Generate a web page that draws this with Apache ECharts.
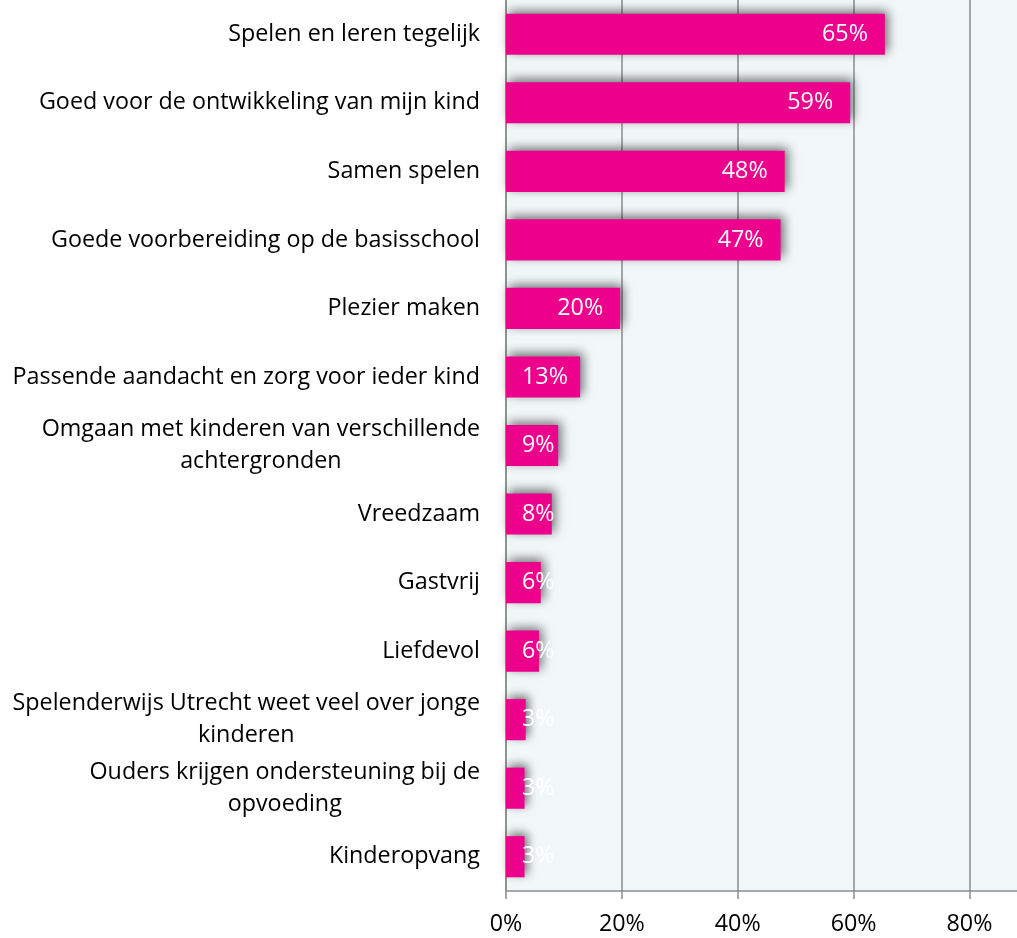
<!DOCTYPE html>
<html>
<head>
<meta charset="utf-8">
<script src="https://cdn.jsdelivr.net/npm/echarts@6/dist/echarts.min.js"></script>
<style>
  html, body { margin: 0; padding: 0; background: #fff; }
  #chart { width: 1017px; height: 938px; }
</style>
</head>
<body>
<div id="chart"></div>
<script>
// top to bottom, as in the picture
const categories = [
  'Spelen en leren tegelijk',
  'Goed voor de ontwikkeling van mijn kind',
  'Samen spelen',
  'Goede voorbereiding op de basisschool',
  'Plezier maken',
  'Passende aandacht en zorg voor ieder kind',
  'Omgaan met kinderen van verschillende\nachtergronden',
  'Vreedzaam',
  'Gastvrij',
  'Liefdevol',
  'Spelenderwijs Utrecht weet veel over jonge\nkinderen',
  'Ouders krijgen ondersteuning bij de\nopvoeding',
  'Kinderopvang'
];
const values = [65.4, 59.4, 48.1, 47.4, 19.7, 12.8, 9.0, 7.9, 6.0, 5.7, 3.4, 3.2, 3.2];
const tickValues = [0, 20, 40, 60, 80];

const FONT = 'Open Sans';
const FS = 23.3;
const GRAY = '#8c8c8c';

const chart = echarts.init(document.getElementById('chart'));

const seriesData = values.map(v => {
  // Excel keeps short-bar labels from running left past the bar start
  if (v < 15) {
    return { value: v, label: { position: 'insideLeft', distance: 16 } };
  }
  return { value: v };
});

const option = {
  backgroundColor: '#ffffff',
  animation: false,
  grid: {
    left: 506,
    right: 0,
    top: -2,
    bottom: 47,
    show: true,
    backgroundColor: '#f2f7fa',
    borderWidth: 0
  },
  xAxis: {
    type: 'value',
    min: 0,
    max: 88.2,   // the picture is cropped just past 88%
    interval: 20,
    axisLine: { show: true, lineStyle: { color: GRAY, width: 1.5 } },
    axisTick: { show: true, length: 8, lineStyle: { color: GRAY, width: 1.5 } },
    splitLine: { show: true, showMaxLine: false, lineStyle: { color: GRAY, width: 1.5 } },
    axisLabel: {
      margin: 22,
      showMaxLabel: false,
      fontFamily: FONT,
      fontSize: FS,
      color: '#000',
      formatter: v => tickValues.indexOf(v) >= 0 ? v + '%' : ''
    }
  },
  yAxis: {
    type: 'category',
    inverse: true,
    data: categories,
    axisLine: { show: true, lineStyle: { color: GRAY, width: 1.5 } },
    axisTick: { show: false },
    splitLine: { show: false },
    axisLabel: {
      margin: 26,
      interval: 0,
      formatter: name => name.split('\n').map(l => '{c|' + l + '}').join('\n'),
      rich: {
        c: {
          align: 'center',
          fontFamily: FONT,
          fontSize: FS,
          lineHeight: 32,
          color: '#000'
        }
      }
    }
  },
  series: [
    {
      type: 'bar',
      data: seriesData,
      barWidth: '60%',
      itemStyle: {
        color: '#ec008c',
        shadowColor: 'rgba(0,0,0,0.55)',
        shadowBlur: 10,
        shadowOffsetX: 3,
        shadowOffsetY: -3
      },
      label: {
        show: true,
        position: 'insideRight',
        distance: 17,
        fontFamily: FONT,
        fontSize: FS,
        color: '#fff',
        formatter: p => Math.round(p.value) + '%'
      }
    }
  ]
};

chart.setOption(option);
</script>
</body>
</html>
